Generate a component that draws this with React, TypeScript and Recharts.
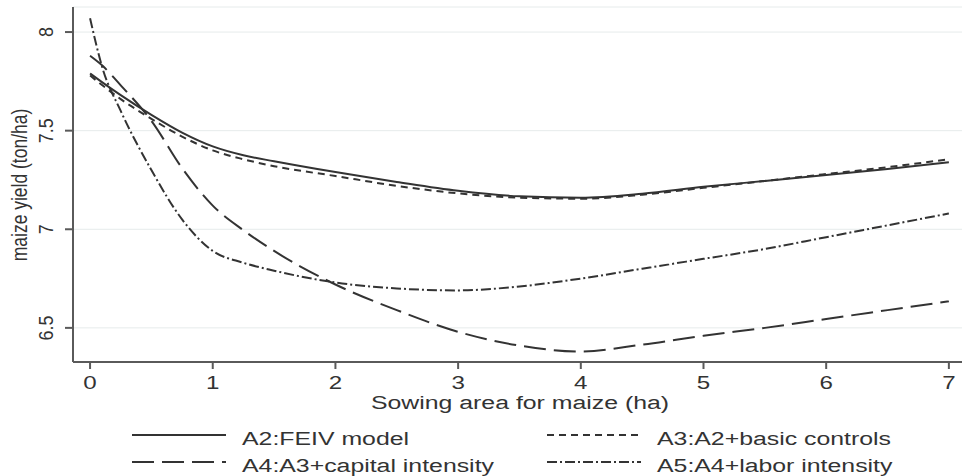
import { LineChart, Line, XAxis, YAxis, CartesianGrid, Legend, Label } from "recharts";

// sowing area (ha) where the fitted curves were read
const areaHa = [0, 0.1, 0.25, 0.5, 0.75, 1, 1.25, 1.5, 2, 2.5, 3, 3.5, 4, 4.5, 5, 5.5, 6, 6.5, 7];

const feivModel = [7.79, 7.745, 7.68, 7.58, 7.49, 7.42, 7.375, 7.345, 7.29, 7.24, 7.195, 7.167, 7.16, 7.18, 7.215, 7.245, 7.275, 7.305, 7.34];
const basicControls = [7.78, 7.73, 7.66, 7.56, 7.47, 7.4, 7.355, 7.32, 7.27, 7.22, 7.182, 7.16, 7.155, 7.175, 7.21, 7.245, 7.28, 7.315, 7.355];
const capitalIntensity = [7.88, 7.83, 7.73, 7.55, 7.31, 7.12, 6.995, 6.89, 6.72, 6.59, 6.48, 6.41, 6.38, 6.415, 6.46, 6.5, 6.545, 6.59, 6.635];
const laborIntensity = [8.07, 7.82, 7.6, 7.3, 7.05, 6.89, 6.83, 6.79, 6.73, 6.7, 6.69, 6.71, 6.75, 6.8, 6.85, 6.9, 6.96, 7.02, 7.08];

const xTicks = [0, 1, 2, 3, 4, 5, 6, 7];
const yTicks = [6.5, 7, 7.5, 8];

const seriesNames = ["A2:FEIV model", "A3:A2+basic controls", "A4:A3+capital intensity", "A5:A4+labor intensity"];
const seriesKeys = ["a2", "a3", "a4", "a5"];
const dashes = ["", "7 5", "22 8", "10 3 2 3"];

const data = areaHa.map((x, i) => ({
  x,
  a2: feivModel[i],
  a3: basicControls[i],
  a4: capitalIntensity[i],
  a5: laborIntensity[i],
}));

const FONT = '"Liberation Sans", Arial, sans-serif';
const INK = "#333";
const STRETCH = 1.38;

function XTick({ x, payload }: any) {
  return (
    <text x={0} y={0} transform={`translate(${x},389) scale(${STRETCH},1)`} textAnchor="middle" fontSize={17.5} fill={INK} fontFamily={FONT}>
      {payload.value}
    </text>
  );
}

function YTick({ y, payload }: any) {
  return (
    <text x={0} y={0} dy="0.35em" transform={`translate(46,${y}) scale(1.15,1) rotate(-90)`} textAnchor="middle" fontSize={18} fill={INK} fontFamily={FONT}>
      {payload.value}
    </text>
  );
}

function LegendBox() {
  const cols = [132, 547];
  const rows = [435, 462];
  return (
    <svg width={962} height={476} style={{ display: "block" }}>
      {seriesNames.map((name, i) => {
        const lx = cols[i % 2];
        const ly = rows[Math.floor(i / 2)];
        return (
          <g key={name}>
            <line x1={lx} x2={lx + 94} y1={ly} y2={ly} stroke={INK} strokeWidth={2} strokeDasharray={dashes[i] || undefined} />
            <text x={0} y={0} transform={`translate(${lx + 110},${ly + 10}) scale(${STRETCH},1)`} fontSize={18} fill={INK} fontFamily={FONT}>
              {name}
            </text>
          </g>
        );
      })}
    </svg>
  );
}

export default function App() {
  return (
    <div style={{ position: "absolute", left: 0, top: 0, background: "#fff" }}>
      <LineChart width={962} height={476} data={data} margin={{ top: 7, right: 0, left: 0, bottom: 0 }}>
        <CartesianGrid vertical={false} stroke="#e6ebeb" strokeWidth={1} />
        <XAxis
          dataKey="x"
          type="number"
          domain={[-0.139, 7.107]}
          ticks={xTicks}
          allowDataOverflow
          height={114}
          stroke="#5a5a5a"
          strokeWidth={2}
          tickSize={7}
          tick={<XTick />}
          interval={0}
        >
          <Label
            content={() => (
              <text x={0} y={0} transform={`translate(520,409) scale(${STRETCH},1)`} textAnchor="middle" fontSize={18} fill={INK} fontFamily={FONT}>
                Sowing area for maize (ha)
              </text>
            )}
          />
        </XAxis>
        <YAxis
          type="number"
          domain={[6.327, 8.127]}
          ticks={yTicks}
          allowDataOverflow
          width={73}
          stroke="#5a5a5a"
          strokeWidth={2}
          tickSize={8}
          tick={<YTick />}
          interval={0}
        >
          <Label
            content={() => (
              <text x={0} y={0} transform={`translate(27,185) scale(1.3,1) rotate(-90)`} textAnchor="middle" fontSize={17.5} fill={INK} fontFamily={FONT}>
                maize yield (ton/ha)
              </text>
            )}
          />
        </YAxis>
        <Legend
          layout="horizontal"
          align="center"
          verticalAlign="middle"
          wrapperStyle={{ top: 0, left: 0, width: 962, height: 476, pointerEvents: "none" }}
          content={() => <LegendBox />}
        />
        {seriesKeys.map((k, i) => (
          <Line
            key={k}
            type="monotone"
            dataKey={k}
            name={seriesNames[i]}
            stroke={INK}
            strokeWidth={2}
            strokeDasharray={dashes[i] || undefined}
            dot={false}
            isAnimationActive={false}
          />
        ))}
      </LineChart>
    </div>
  );
}
